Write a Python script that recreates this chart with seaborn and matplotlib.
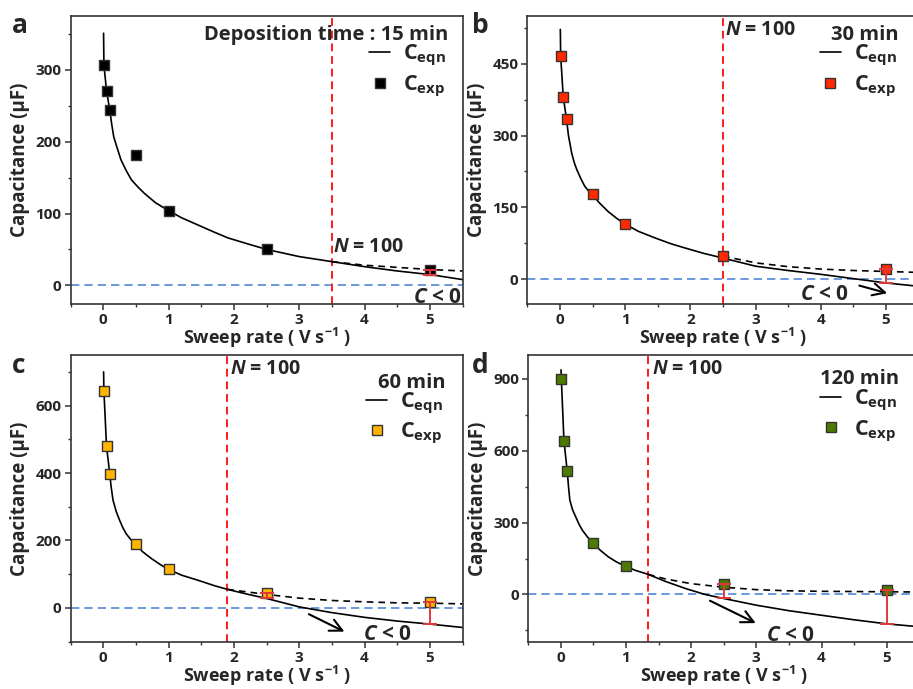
import matplotlib
matplotlib.use("Agg")
import matplotlib.pyplot as plt
from matplotlib.lines import Line2D
from matplotlib.ticker import MultipleLocator
import seaborn as sns

sns.set_style("ticks")
plt.rcParams["font.family"] = ["Open Sans", "DejaVu Sans"]
plt.rcParams["font.weight"] = "bold"
plt.rcParams["mathtext.fontset"] = "custom"
plt.rcParams["mathtext.rm"] = "Open Sans:bold"
plt.rcParams["mathtext.it"] = "Open Sans:italic:bold"
plt.rcParams["mathtext.bf"] = "Open Sans:bold"

# ---- measured points: sweep rate (V/s) and capacitance (uF) ----
rate_exp = [0.01, 0.05, 0.1, 0.5, 1.0, 2.5, 5.0]
cexp_15 = [307, 271, 244, 181, 104, 50, 22]
cexp_30 = [467, 380, 334, 178, 115, 49, 21]
cexp_60 = [643, 479, 397, 189, 114, 45, 18]
cexp_120 = [899, 641, 515, 214, 117, 42, 17]

# ---- C_eqn (solid) ----
rate_eqn_15 = [0.005, 0.01, 0.05, 0.1, 0.13, 0.16, 0.2, 0.27, 0.35, 0.43, 0.53, 0.63, 0.8,
               1.0, 1.2, 1.45, 1.7, 1.91, 2.2, 2.5, 3.0, 3.5, 4.0, 4.5, 5.0, 5.5]
ceqn_15 = [351, 307, 271, 244, 224, 207, 195, 175, 160, 147, 137, 128, 115,
           104, 94, 84, 74, 66, 58, 50, 40, 33, 26, 20, 15, 8]
rate_eqn_30 = [0.005, 0.01, 0.05, 0.1, 0.13, 0.18, 0.22, 0.26, 0.32, 0.38, 0.44, 0.5, 0.6,
               0.74, 0.87, 1.0, 1.2, 1.46, 1.7, 1.92, 2.2, 2.5, 3.0, 3.5, 4.0, 4.5, 5.0, 5.5]
ceqn_30 = [522, 467, 381, 334, 300, 263, 243, 228, 210, 194, 184, 176, 160,
           141, 127, 115, 100, 86, 74, 65, 54, 44, 27, 18, 10, 1, -8, -15]
rate_eqn_60 = [0.005, 0.01, 0.05, 0.1, 0.12, 0.15, 0.2, 0.25, 0.3, 0.35, 0.42, 0.5, 0.6,
               0.74, 0.87, 1.0, 1.2, 1.45, 1.7, 1.9, 2.2, 2.5, 3.0, 3.5, 4.0, 4.5, 5.0, 5.5]
ceqn_60 = [700, 643, 479, 397, 360, 319, 285, 260, 238, 220, 203, 189, 167,
           146, 129, 114, 97, 82, 66, 55, 41, 28, 3, -14, -28, -39, -48, -58]
rate_eqn_120 = [0.005, 0.01, 0.05, 0.1, 0.12, 0.14, 0.18, 0.23, 0.28, 0.33, 0.41, 0.5, 0.6,
                0.73, 0.86, 1.0, 1.15, 1.34, 1.6, 1.91, 2.21, 2.5, 3.0, 3.5, 4.0, 4.5, 5.0, 5.5]
ceqn_120 = [938, 899, 641, 515, 450, 394, 355, 324, 294, 269, 240, 214, 186,
            157, 135, 117, 100, 84, 55, 25, 0, -17, -45, -68, -87, -106, -123, -135]

# ---- C_eqn beyond N = 100 (dashed) ----
rate_n100_15 = [3.5, 4.0, 4.5, 5.0, 5.5]
cn100_15 = [33, 28, 25, 22, 20]
rate_n100_30 = [2.5, 3.0, 3.5, 4.0, 4.5, 5.0, 5.5]
cn100_30 = [48, 34, 26, 21, 18, 16, 14]
rate_n100_60 = [1.9, 2.5, 3.0, 3.5, 4.0, 4.5, 5.0, 5.5]
cn100_60 = [55, 40, 29, 22, 18, 15, 14, 12]
rate_n100_120 = [1.34, 1.6, 2.0, 2.5, 3.0, 3.5, 4.0, 4.5, 5.0, 5.5]
cn100_120 = [84, 65, 45, 30, 20, 15, 13, 12, 11, 10]

# sweep rate at which N = 100
rate_n100 = [3.5, 2.5, 1.9, 1.34]

# error bars: (sweep rate, measured value, C_eqn value)
err_15 = [(5.0, 22, 15)]
err_30 = [(5.0, 21, -8)]
err_60 = [(2.5, 45, 28), (5.0, 18, -48)]
err_120 = [(2.5, 42, -17), (5.0, 17, -123)]

time_labels = ["Deposition time : 15 min", "30 min", "60 min", "120 min"]
panel_letters = ["a", "b", "c", "d"]
colors = ["#000000", "#ff2a00", "#ffb400", "#4d7a00"]
ylims = [(-26, 375), (-52, 550), (-102, 750), (-200, 1000)]
ymajor = [100, 150, 200, 300]

W, H = 913, 689
fig = plt.figure(figsize=(W / 100, H / 100), dpi=100)


def px_axes(left, top, right, bottom):
    return fig.add_axes([left / W, 1 - bottom / H, (right - left) / W, (bottom - top) / H])


axes = [
    px_axes(70.6, 16, 462.5, 304),
    px_axes(527.4, 16, 918.6, 304),
    px_axes(70.6, 355, 462.5, 642.3),
    px_axes(528.1, 355, 919.3, 642.3),
]

panels = [
    (rate_eqn_15, ceqn_15, rate_n100_15, cn100_15, cexp_15, err_15),
    (rate_eqn_30, ceqn_30, rate_n100_30, cn100_30, cexp_30, err_30),
    (rate_eqn_60, ceqn_60, rate_n100_60, cn100_60, cexp_60, err_60),
    (rate_eqn_120, ceqn_120, rate_n100_120, cn100_120, cexp_120, err_120),
]

# annotation placement (data coords)
n100_text = [(3.52, 54), (2.53, 520), (1.94, 707), (1.40, 940)]
cneg_text = [(5.11, -17), (4.06, -33), (4.35, -79), (3.52, -170)]
arrows = [None, ((4.55, -12), (5.06, -31)), ((3.11, -15), (3.73, -74)), ((2.25, -21), (3.03, -125))]
title_pos = [(0.964, 0.934), (0.950, 0.934), (0.956, 0.904), (0.949, 0.915)]
legend_top = [0.905, 0.905, 0.875, 0.885]
letter_base = [(12, 33), (472, 33), (12, 373), (472, 373)]

for i, ax in enumerate(axes):
    xe, ye, xd, yd, yexp, errs = panels[i]
    col = colors[i]

    ax.axhline(0, color="#4f88d8", ls=(0, (5, 3)), lw=1.2, zorder=1)
    ax.axvline(rate_n100[i], color="#ff1a1a", ls=(0, (4, 2.5)), lw=1.4, zorder=1)

    sns.lineplot(x=xe, y=ye, ax=ax, color="black", lw=1.2, sort=False,
                 estimator=None, zorder=2)
    sns.lineplot(x=xd, y=yd, ax=ax, color="black", lw=1.2, sort=False,
                 estimator=None, zorder=2, linestyle=(0, (4, 3)))
    sns.scatterplot(x=rate_exp, y=yexp, ax=ax, marker="s", s=48, color=col,
                    edgecolor="#333333", linewidth=1.0, zorder=4)

    for xv, yv, yc in errs:
        ax.errorbar([xv], [yv], yerr=[[yv - yc], [0]], fmt="none",
                    ecolor="#e0393e", elinewidth=1.4, capsize=5, capthick=1.4, zorder=5)

    ax.set_xlim(-0.5, 5.5)
    ax.set_ylim(*ylims[i])
    ax.xaxis.set_major_locator(MultipleLocator(1))
    ax.xaxis.set_minor_locator(MultipleLocator(0.5))
    ax.yaxis.set_major_locator(MultipleLocator(ymajor[i]))
    ax.yaxis.set_minor_locator(MultipleLocator(ymajor[i] / 2))
    ax.tick_params(which="major", direction="out", length=4.5, width=1.1,
                   labelsize=11, color="#333333", pad=2)
    ax.tick_params(which="minor", direction="out", length=2.5, width=1.0, color="#333333")
    for lab in ax.get_xticklabels() + ax.get_yticklabels():
        lab.set_fontweight("bold")
    for sp in ax.spines.values():
        sp.set_visible(True)
        sp.set_linewidth(1.2)
        sp.set_color("#333333")

    ax.set_xlabel("Sweep rate ( V s$^{-1}$ )", fontsize=13, fontweight="bold", labelpad=-1)
    ax.set_ylabel("Capacitance (μF)", fontsize=13.5, fontweight="bold", labelpad=4)

    ax.text(*title_pos[i], time_labels[i], transform=ax.transAxes, ha="right",
            va="center", fontsize=14.5, fontweight="bold")
    ax.text(*n100_text[i], "$N$ = 100", ha="left", va="center", fontsize=14,
            fontweight="bold")
    ax.text(*cneg_text[i], "$C$ < 0", ha="center", va="center", fontsize=15,
            fontweight="bold", clip_on=True)
    if arrows[i] is not None:
        (x0, y0), (x1, y1) = arrows[i]
        ax.annotate("", xy=(x1, y1), xytext=(x0, y0),
                    arrowprops=dict(arrowstyle="->", lw=1.5, color="black",
                                    mutation_scale=22))

    handles = [Line2D([], [], color="black", lw=1.2),
               Line2D([], [], marker="s", ls="none", mfc=col, mec="#333333", ms=7)]
    ax.legend(handles, ["C$_{\\rm eqn}$", "C$_{\\rm exp}$"], loc="upper right",
              bbox_to_anchor=(title_pos[i][0] - 0.005, legend_top[i]), frameon=False,
              fontsize=15.5, handlelength=1.0, handletextpad=0.6, labelspacing=0.25,
              borderpad=0, borderaxespad=0)

    fig.text(letter_base[i][0] / W, 1 - letter_base[i][1] / H, panel_letters[i],
             fontsize=19, fontweight="bold", ha="left", va="baseline")

fig.savefig("out.png", dpi=100)
